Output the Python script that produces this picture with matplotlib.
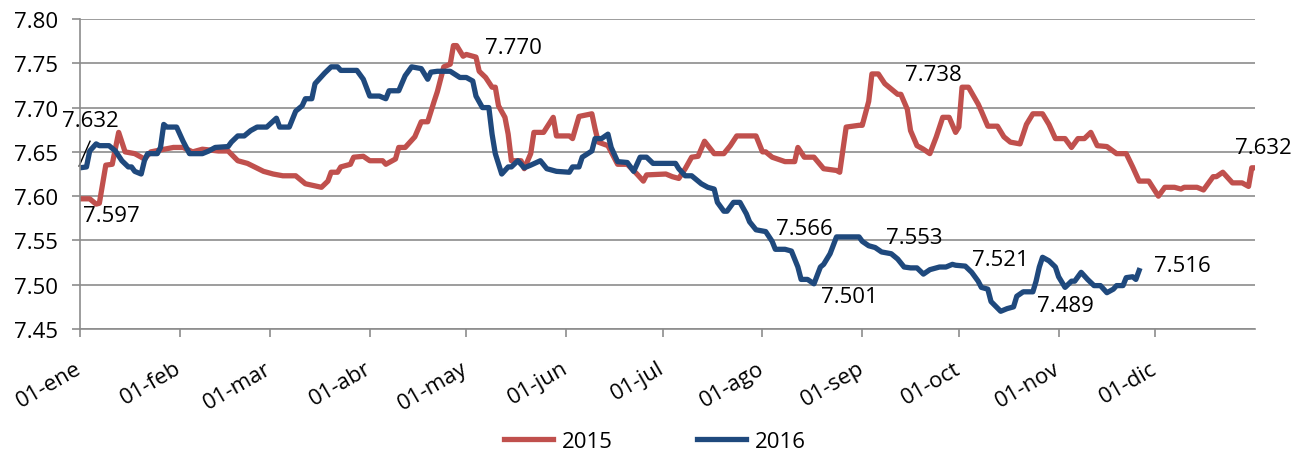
import matplotlib.pyplot as plt

# Tipo de cambio diario (dia del año, valor)
dias_2015 = [0, 3, 5, 6, 8, 10, 12, 14, 17, 20, 22, 29, 32, 35, 38, 43, 46, 49, 52, 57,
             60, 63, 67, 70, 75, 77, 78, 80, 81, 84, 85, 88, 90, 94, 95, 98, 99, 101, 104, 106,
             108, 110, 111, 113, 115, 116, 117, 119, 120, 123, 124, 126, 128, 129, 130, 132, 133, 134, 137, 138,
             140, 141, 144, 147, 148, 152, 153, 155, 159, 160, 161, 164, 167, 170, 173, 175, 176, 182, 184, 186,
             188, 190, 192, 194, 197, 200, 202, 204, 210, 212, 213, 215, 219, 222, 223, 225, 228, 231, 235, 236,
             238, 242, 243, 245, 246, 248, 250, 252, 254, 255, 257, 258, 260, 262, 264, 266, 268, 270, 272, 273,
             274, 276, 279, 280, 282, 285, 287, 289, 292, 294, 296, 299, 301, 303, 306, 308, 310, 312, 314, 316,
             319, 322, 325, 327, 329, 332, 335, 337, 340, 342, 343, 347, 349, 352, 353, 355, 358, 361, 363, 364, 365]
valores_2015 = [7.597, 7.597, 7.591, 7.592, 7.635, 7.636, 7.672, 7.650, 7.648, 7.642, 7.650, 7.655, 7.655, 7.650, 7.653, 7.651, 7.651, 7.640, 7.637, 7.628,
                7.625, 7.623, 7.623, 7.614, 7.610, 7.617, 7.627, 7.627, 7.633, 7.636, 7.644, 7.645, 7.640, 7.640, 7.636, 7.642, 7.655, 7.655, 7.667, 7.684,
                7.684, 7.707, 7.718, 7.746, 7.749, 7.770, 7.770, 7.758, 7.760, 7.757, 7.741, 7.734, 7.723, 7.723, 7.702, 7.689, 7.670, 7.640, 7.640, 7.631,
                7.648, 7.672, 7.672, 7.689, 7.668, 7.668, 7.665, 7.690, 7.693, 7.676, 7.661, 7.657, 7.636, 7.636, 7.625, 7.617, 7.624, 7.625, 7.622, 7.620,
                7.631, 7.644, 7.645, 7.662, 7.648, 7.648, 7.657, 7.668, 7.668, 7.650, 7.650, 7.644, 7.639, 7.639, 7.655, 7.644, 7.644, 7.631, 7.629, 7.627,
                7.678, 7.680, 7.680, 7.707, 7.738, 7.738, 7.727, 7.721, 7.715, 7.715, 7.698, 7.674, 7.657, 7.653, 7.648, 7.667, 7.689, 7.689, 7.672, 7.678,
                7.723, 7.723, 7.704, 7.696, 7.679, 7.679, 7.667, 7.661, 7.659, 7.681, 7.693, 7.693, 7.681, 7.665, 7.665, 7.655, 7.665, 7.665, 7.672, 7.657,
                7.656, 7.648, 7.648, 7.633, 7.617, 7.617, 7.600, 7.610, 7.610, 7.608, 7.610, 7.610, 7.607, 7.622, 7.622, 7.627, 7.615, 7.615, 7.611, 7.632, 7.632]

dias_2016 = [0, 2, 3, 5, 6, 9, 11, 13, 15, 16, 17, 19, 20, 21, 24, 25, 26, 27, 30, 32,
             34, 38, 40, 42, 46, 47, 49, 51, 53, 55, 58, 61, 62, 65, 67, 69, 70, 72, 73, 76,
             78, 80, 81, 86, 88, 90, 93, 95, 96, 99, 101, 103, 106, 108, 109, 111, 115, 118, 120, 122,
             123, 125, 127, 128, 129, 131, 133, 134, 136, 138, 140, 143, 145, 148, 152, 153, 155, 156, 159, 160,
             162, 164, 165, 167, 170, 172, 174, 176, 178, 185, 186, 188, 190, 193, 195, 197, 198, 200, 201, 203,
             205, 207, 208, 210, 213, 215, 216, 219, 221, 223, 224, 226, 228, 230, 231, 233, 235, 238, 242, 243,
             245, 247, 249, 252, 254, 256, 258, 260, 262, 264, 267, 269, 271, 272, 275, 277, 279, 280, 282, 283,
             286, 288, 290, 291, 293, 296, 297, 298, 299, 301, 303, 304, 306, 308, 309, 311, 313, 315, 317, 319,
             321, 322, 324, 325, 327, 328, 329]
valores_2016 = [7.632, 7.633, 7.651, 7.659, 7.657, 7.657, 7.651, 7.640, 7.633, 7.633, 7.628, 7.625, 7.640, 7.648, 7.648, 7.655, 7.681, 7.678, 7.678, 7.662,
                7.648, 7.648, 7.651, 7.655, 7.656, 7.661, 7.668, 7.668, 7.674, 7.678, 7.678, 7.688, 7.678, 7.678, 7.696, 7.702, 7.710, 7.710, 7.727, 7.739,
                7.746, 7.746, 7.742, 7.742, 7.732, 7.713, 7.713, 7.710, 7.719, 7.719, 7.736, 7.746, 7.744, 7.732, 7.740, 7.741, 7.741, 7.734, 7.734, 7.730,
                7.713, 7.700, 7.700, 7.670, 7.648, 7.625, 7.633, 7.633, 7.640, 7.632, 7.635, 7.640, 7.631, 7.628, 7.627, 7.633, 7.633, 7.644, 7.651, 7.665,
                7.665, 7.670, 7.655, 7.639, 7.638, 7.628, 7.644, 7.644, 7.637, 7.637, 7.631, 7.623, 7.623, 7.614, 7.610, 7.608, 7.593, 7.583, 7.583, 7.593,
                7.593, 7.580, 7.571, 7.562, 7.560, 7.549, 7.540, 7.540, 7.538, 7.520, 7.506, 7.506, 7.501, 7.520, 7.523, 7.535, 7.554, 7.554, 7.554, 7.549,
                7.544, 7.542, 7.537, 7.535, 7.529, 7.520, 7.519, 7.519, 7.512, 7.517, 7.520, 7.520, 7.523, 7.522, 7.521, 7.514, 7.504, 7.497, 7.495, 7.481,
                7.470, 7.473, 7.475, 7.487, 7.492, 7.492, 7.504, 7.520, 7.531, 7.527, 7.520, 7.509, 7.497, 7.504, 7.504, 7.514, 7.506, 7.499, 7.499, 7.491,
                7.495, 7.499, 7.499, 7.508, 7.509, 7.506, 7.516]

# Ejes
meses = ["01-ene", "01-feb", "01-mar", "01-abr", "01-may", "01-jun",
         "01-jul", "01-ago", "01-sep", "01-oct", "01-nov", "01-dic"]
inicio_mes = [0, 31, 59, 90, 120, 151, 181, 212, 243, 273, 304, 334]
yticks = [7.45, 7.50, 7.55, 7.60, 7.65, 7.70, 7.75, 7.80]

# Etiquetas de valores (texto, x, y)
etiquetas = [("7.632", 3.1, 7.685), ("7.597", 9.6, 7.578), ("7.770", 134.5, 7.768),
             ("7.566", 225, 7.564), ("7.501", 239, 7.487), ("7.738", 265, 7.737),
             ("7.553", 259, 7.553), ("7.521", 286, 7.528), ("7.489", 306, 7.476),
             ("7.516", 342.5, 7.522), ("7.632", 367.6, 7.655)]

plt.rcParams['font.family'] = ['Open Sans', 'DejaVu Sans']
rojo = "#C0504D"
azul = "#1F497D"
gris = "#8C8C8C"

fig = plt.figure(figsize=(13.1, 4.56), dpi=100)
ax = fig.add_axes([0.0611, 0.2763, 0.8969, 0.6798])

ax.plot(dias_2015, valores_2015, color=rojo, lw=3.8, label="2015", solid_joinstyle="round")
ax.plot(dias_2016, valores_2016, color=azul, lw=3.8, label="2016", solid_joinstyle="round")

ax.set_xlim(0, 365)
ax.set_ylim(7.45, 7.80)
ax.set_yticks(yticks)
ax.set_yticklabels([f"{v:.2f}" for v in yticks])
ax.set_xticks(inicio_mes)
ax.set_xticklabels(meses, rotation=30, ha="right", va="center", rotation_mode="anchor")

ax.grid(axis="y", color=gris, lw=1.2)
ax.set_axisbelow(True)
for lado in ["top", "right"]:
    ax.spines[lado].set_visible(False)
for lado in ["left", "bottom"]:
    ax.spines[lado].set_color(gris)
    ax.spines[lado].set_linewidth(1.2)
ax.tick_params(axis="both", direction="out", length=6, width=1.2, color=gris, labelsize=16)
ax.tick_params(axis="y", pad=10)
ax.tick_params(axis="x", pad=21)

# Etiquetas de datos
for texto, x, y in etiquetas:
    ax.text(x, y, texto, fontsize=16, ha="center", va="center", clip_on=False)
ax.plot([-0.3, 3.1], [7.634, 7.662], color="black", lw=1, clip_on=False)

fig.legend(loc="center", bbox_to_anchor=(0.5, 0.03), ncol=2, frameon=False,
           fontsize=16, handlelength=2.2, handletextpad=0.4, columnspacing=3.8)

plt.savefig("out.png", dpi=100)
